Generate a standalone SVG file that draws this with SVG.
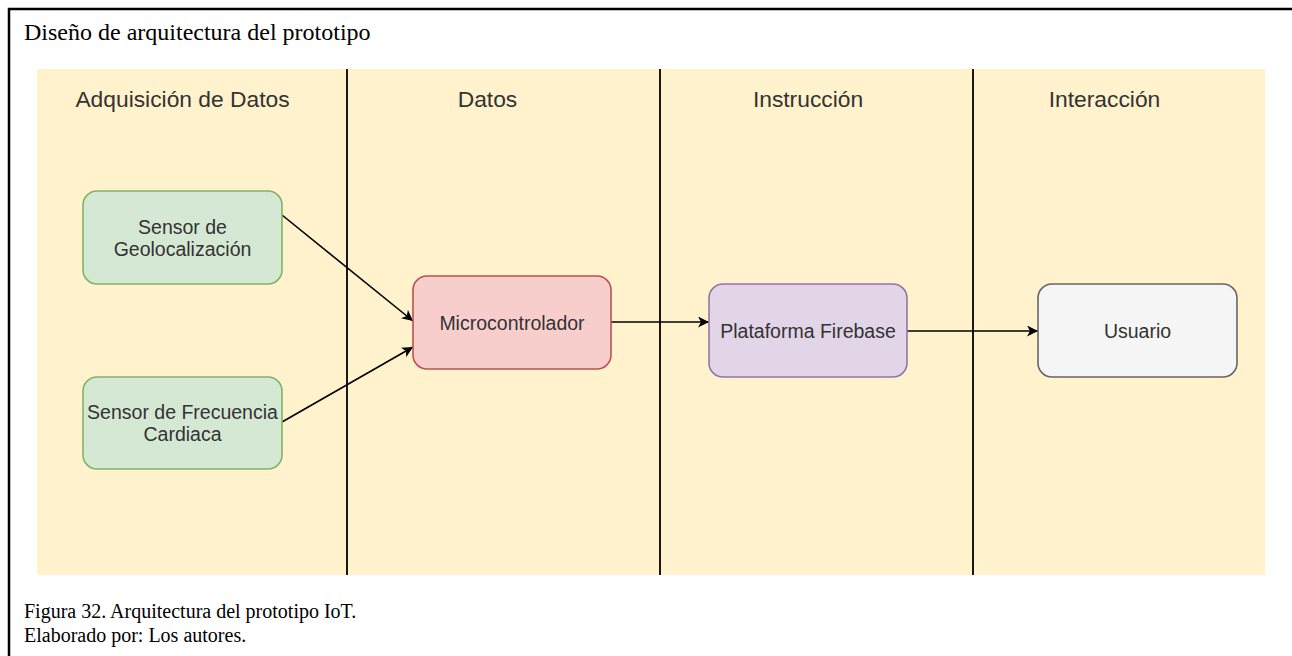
<svg xmlns="http://www.w3.org/2000/svg" width="1292" height="656" viewBox="0 0 1292 656">
  <style>
    .frame { stroke: #000; stroke-width: 2.5; fill: none; }
    .serif { font-family: "Liberation Serif", "Times New Roman", serif; fill: #000; }
    .lane-bg { fill: #FFF2CC; }
    .lane-sep { stroke: #000; stroke-width: 1.8; }
    .lane-title { font-family: "Liberation Sans", Arial, sans-serif; font-size: 22.8px; fill: #333; text-anchor: middle; }
    .label { font-family: "Liberation Sans", Arial, sans-serif; font-size: 19.5px; fill: #333; text-anchor: middle; }
    .green { fill: #D5E8D4; stroke: #82B366; stroke-width: 1.6; }
    .red { fill: #F8CECC; stroke: #B85450; stroke-width: 1.6; }
    .purple { fill: #E1D5E7; stroke: #9673A6; stroke-width: 1.6; }
    .grey { fill: #F5F5F5; stroke: #666666; stroke-width: 1.6; }
    .edge { stroke: #000; stroke-width: 1.6; fill: none; marker-end: url(#arrow); }
  </style>
  <defs>
    <marker id="arrow" markerUnits="userSpaceOnUse" markerWidth="12" markerHeight="12" refX="11" refY="5.5" orient="auto">
      <path d="M0,0 L11,5.5 L0,11 L3,5.5 Z" fill="#000"/>
    </marker>
  </defs>

  <rect width="1292" height="656" fill="#fff"/>

  <!-- page frame -->
  <path class="frame" d="M9,656 V9 H1292"/>
  <text class="serif" x="24" y="40" font-size="24">Diseño de arquitectura del prototipo</text>

  <!-- swimlanes -->
  <g id="lanes">
    <rect class="lane-bg" x="37" y="69" width="1228" height="506"/>
    <line class="lane-sep" x1="347" y1="69" x2="347" y2="575"/>
    <line class="lane-sep" x1="660" y1="69" x2="660" y2="575"/>
    <line class="lane-sep" x1="973" y1="69" x2="973" y2="575"/>
    <text class="lane-title" x="182.5" y="107">Adquisición de Datos</text>
    <text class="lane-title" x="487.5" y="107">Datos</text>
    <text class="lane-title" x="808" y="107">Instrucción</text>
    <text class="lane-title" x="1104.5" y="107">Interacción</text>
  </g>

  <!-- connectors -->
  <g id="connectors">
    <line class="edge" x1="282" y1="215" x2="413" y2="321"/>
    <line class="edge" x1="282" y1="422" x2="413" y2="347"/>
    <line class="edge" x1="611" y1="322" x2="709" y2="322"/>
    <line class="edge" x1="907" y1="331" x2="1038" y2="331"/>
  </g>

  <g id="sensor-geo">
    <rect class="green" x="83" y="191" width="199" height="93" rx="14"/>
    <text class="label" x="182.5" y="234">Sensor de</text>
    <text class="label" x="182.5" y="256">Geolocalización</text>
  </g>

  <g id="sensor-fc">
    <rect class="green" x="83" y="377" width="199" height="92" rx="14"/>
    <text class="label" x="182.5" y="419">Sensor de Frecuencia</text>
    <text class="label" x="182.5" y="441">Cardiaca</text>
  </g>

  <g id="micro">
    <rect class="red" x="413" y="276" width="198" height="93" rx="14"/>
    <text class="label" x="512" y="330">Microcontrolador</text>
  </g>

  <g id="firebase">
    <rect class="purple" x="709" y="284" width="198" height="93" rx="14"/>
    <text class="label" x="808" y="338">Plataforma Firebase</text>
  </g>

  <g id="usuario">
    <rect class="grey" x="1038" y="284" width="199" height="93" rx="14"/>
    <text class="label" x="1137.5" y="338">Usuario</text>
  </g>

  <!-- caption -->
  <text class="serif" x="24" y="618" font-size="20">Figura 32. Arquitectura del prototipo IoT.</text>
  <text class="serif" x="24" y="642" font-size="20">Elaborado por: Los autores.</text>
</svg>
